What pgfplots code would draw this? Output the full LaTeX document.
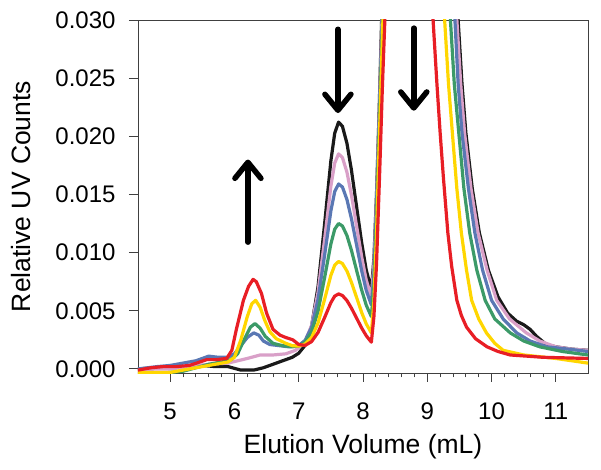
\documentclass[border=0pt]{standalone}
\usepackage{pgfplots}
\pgfplotsset{compat=1.18}
\usepackage{fontspec}
\setmainfont{Liberation Sans}
\usetikzlibrary{arrows.meta}
\definecolor{cblack}{HTML}{1A1A1A}
\definecolor{cpink}{HTML}{D9A0C8}
\definecolor{cblue}{HTML}{5A78B4}
\definecolor{cgreen}{HTML}{3C9A68}
\definecolor{cyellow}{HTML}{FFD600}
\definecolor{cred}{HTML}{E81E25}
\begin{document}
\begin{tikzpicture}
\begin{axis}[
  scale only axis,
  width=450pt, height=353pt,
  xmin=4.5, xmax=11.5, ymin=-0.00035, ymax=0.030,
  axis line style={black!75, line width=0.9pt},
  xtick={5,6,7,8,9,10,11},
  minor x tick num=4,
  ytick={0,0.005,0.010,0.015,0.020,0.025,0.030},
  tick pos=left, tick align=outside,
  major tick length=9pt, minor tick length=4.5pt,
  tick style={black!75, line width=0.9pt},
  /pgf/number format/assume math mode=true,
  yticklabel style={/pgf/number format/fixed, /pgf/number format/precision=3, /pgf/number format/fixed zerofill, font=\fontsize{24}{28}\selectfont},
  xticklabel style={font=\fontsize{24}{28}\selectfont},
  xticklabel shift=17pt, yticklabel shift=10pt,
  xlabel shift=8pt, ylabel shift=18pt,
  scaled y ticks=false,
  xlabel={Elution Volume (mL)},
  ylabel={Relative UV Counts},
  label style={font=\fontsize{26.5}{30}\selectfont},
  every axis plot/.append style={line width=3.2pt, line join=round, line cap=round},
  clip=true,
]
\coordinate (bl) at (rel axis cs:0,0);
\coordinate (tr) at (rel axis cs:1,1);
% black
\addplot[cblack] coordinates {(4.5,0.0000) (4.8,0.0001) (5.0,0.0001) (5.3,0.0002) (5.5,0.0003) (5.7,0.0002) (5.9,0.0002) (6.1,-0.0001) (6.3,-0.0001) (6.45,0.0001) (6.6,0.0004) (6.75,0.0007) (6.9,0.0010) (7.0,0.00135) (7.1,0.00204) (7.2,0.00366) (7.3,0.00705) (7.4,0.01232) (7.5,0.01788) (7.56,0.02027) (7.62,0.02122) (7.68,0.02086) (7.75,0.0194) (7.82,0.0171) (7.9,0.01396) (7.98,0.01083) (8.05,0.00852) (8.13,0.0068) (8.17,0.0095) (8.21,0.015) (8.25,0.022) (8.29,0.030) (8.33,0.040) (8.45,0.08) (8.8,0.2) (9.2,0.08) (9.35,0.045) (9.41,0.037) (9.48,0.030) (9.54,0.0245) (9.60,0.0203) (9.70,0.0155) (9.81,0.0117) (9.95,0.0085) (10.1,0.0062) (10.25,0.0048) (10.39,0.0041) (10.5,0.0038) (10.6,0.0034) (10.7,0.0028) (10.85,0.0021) (11.0,0.0019) (11.25,0.0017) (11.5,0.0016)};
% pink
\addplot[cpink] coordinates {(4.5,-0.0001) (4.8,0.0000) (5.0,0.0000) (5.3,0.0002) (5.6,0.0004) (5.9,0.0005) (6.05,0.0007) (6.2,0.0009) (6.4,0.0012) (6.6,0.0012) (6.8,0.0013) (6.95,0.0016) (7.0,0.00183) (7.1,0.00238) (7.2,0.00374) (7.3,0.00658) (7.4,0.01102) (7.5,0.0157) (7.56,0.0177) (7.62,0.01849) (7.68,0.01817) (7.75,0.01692) (7.82,0.01495) (7.9,0.01229) (7.98,0.00962) (8.05,0.00765) (8.13,0.0062) (8.17,0.009) (8.21,0.0145) (8.25,0.0215) (8.295,0.030) (8.34,0.040) (8.45,0.08) (8.8,0.2) (9.2,0.08) (9.33,0.045) (9.39,0.037) (9.46,0.030) (9.52,0.0245) (9.58,0.0203) (9.68,0.0155) (9.79,0.0117) (9.93,0.0085) (10.08,0.0059) (10.28,0.0043) (10.54,0.0031) (10.75,0.0024) (11.0,0.0019) (11.25,0.0017) (11.5,0.0016)};
% blue
\addplot[cblue] coordinates {(4.5,0.0000) (4.8,0.0002) (5.0,0.0003) (5.2,0.0005) (5.4,0.0007) (5.6,0.0011) (5.75,0.0010) (5.9,0.0010) (6.0,0.0013) (6.1,0.0020) (6.2,0.0027) (6.3,0.0031) (6.38,0.0029) (6.45,0.0024) (6.55,0.0021) (6.7,0.0020) (6.85,0.0019) (7.0,0.00201) (7.1,0.00246) (7.2,0.00358) (7.3,0.00596) (7.4,0.00967) (7.5,0.01358) (7.56,0.01525) (7.62,0.0159) (7.68,0.01564) (7.75,0.01457) (7.82,0.01292) (7.9,0.01066) (7.98,0.00842) (8.05,0.00676) (8.13,0.0055) (8.17,0.0082) (8.21,0.014) (8.25,0.021) (8.3,0.030) (8.35,0.040) (8.45,0.08) (8.8,0.2) (9.2,0.08) (9.3,0.045) (9.36,0.037) (9.43,0.030) (9.48,0.0245) (9.54,0.0203) (9.64,0.0155) (9.74,0.0117) (9.86,0.0085) (10.0,0.0059) (10.18,0.0043) (10.39,0.0031) (10.6,0.0024) (10.86,0.0019) (11.2,0.0017) (11.5,0.0015)};
% green
\addplot[cgreen] coordinates {(4.5,-0.0004) (4.8,-0.0004) (5.0,-0.0003) (5.2,-0.0002) (5.4,0.0001) (5.6,0.0004) (5.8,0.0006) (5.95,0.0008) (6.05,0.0013) (6.15,0.0025) (6.25,0.0036) (6.32,0.0039) (6.4,0.0035) (6.48,0.0028) (6.6,0.0022) (6.75,0.0020) (6.9,0.0019) (7.0,0.00198) (7.1,0.00232) (7.2,0.00316) (7.3,0.00495) (7.4,0.00777) (7.5,0.01074) (7.56,0.01201) (7.62,0.0125) (7.68,0.01229) (7.75,0.01147) (7.82,0.0102) (7.9,0.00848) (7.98,0.00677) (8.05,0.00549) (8.13,0.0045) (8.17,0.0072) (8.21,0.013) (8.25,0.020) (8.305,0.030) (8.35,0.040) (8.45,0.08) (8.8,0.2) (9.15,0.08) (9.22,0.045) (9.28,0.037) (9.36,0.030) (9.42,0.0245) (9.49,0.0203) (9.57,0.0155) (9.66,0.0117) (9.77,0.0085) (9.90,0.0059) (10.05,0.0043) (10.29,0.0031) (10.5,0.0024) (10.75,0.0019) (11.1,0.0015) (11.5,0.0012)};
% yellow
\addplot[cyellow] coordinates {(4.5,-0.0003) (4.8,-0.0003) (5.0,-0.0003) (5.3,0.0000) (5.5,0.0002) (5.7,0.0004) (5.9,0.0006) (6.0,0.0010) (6.1,0.0025) (6.2,0.0045) (6.27,0.0056) (6.33,0.0059) (6.4,0.0053) (6.47,0.0042) (6.55,0.0032) (6.65,0.0026) (6.8,0.0022) (6.9,0.0020) (7.0,0.00196) (7.1,0.00214) (7.2,0.00269) (7.3,0.00394) (7.4,0.00593) (7.5,0.00804) (7.56,0.00892) (7.62,0.00924) (7.68,0.00906) (7.75,0.00842) (7.82,0.00745) (7.9,0.00615) (7.98,0.00484) (8.05,0.00388) (8.13,0.0031) (8.17,0.0058) (8.21,0.0115) (8.25,0.019) (8.31,0.030) (8.36,0.040) (8.45,0.08) (8.8,0.2) (9.08,0.08) (9.15,0.045) (9.2,0.037) (9.27,0.030) (9.33,0.0245) (9.39,0.0203) (9.46,0.0155) (9.53,0.0117) (9.61,0.0085) (9.69,0.0059) (9.8,0.0043) (9.92,0.0031) (10.05,0.0022) (10.18,0.0016) (10.5,0.0012) (11.0,0.0009) (11.5,0.0005)};
% red
\addplot[cred] coordinates {(4.5,-0.0001) (4.7,0.0001) (4.89,0.0002) (5.1,0.0002) (5.3,0.0003) (5.41,0.0005) (5.57,0.0008) (5.72,0.0008) (5.88,0.0009) (5.96,0.0016) (6.03,0.0034) (6.14,0.0059) (6.22,0.0071) (6.29,0.0077) (6.34,0.0075) (6.42,0.0065) (6.50,0.0048) (6.6,0.0034) (6.71,0.0029) (6.8,0.0027) (6.91,0.0025) (7.0,0.0021) (7.1,0.00202) (7.2,0.00235) (7.3,0.00313) (7.4,0.00438) (7.5,0.0057) (7.56,0.00626) (7.62,0.00645) (7.68,0.00631) (7.75,0.00588) (7.82,0.00523) (7.9,0.00437) (7.98,0.00351) (8.05,0.00286) (8.13,0.0023) (8.17,0.0045) (8.21,0.009) (8.26,0.017) (8.3,0.024) (8.34,0.030) (8.38,0.040) (8.48,0.08) (8.8,0.2) (8.95,0.08) (9.0,0.045) (9.03,0.037) (9.09,0.030) (9.15,0.0245) (9.20,0.0203) (9.25,0.0165) (9.32,0.0117) (9.38,0.0088) (9.46,0.0059) (9.53,0.0046) (9.61,0.0036) (9.75,0.0026) (9.93,0.0019) (10.1,0.0015) (10.29,0.0012) (10.8,0.0010) (11.5,0.0009)};
% arrows
\draw[black, line width=5.5pt, line cap=round, -{Straight Barb[length=16pt, width=26pt, round]}] (axis cs:6.21,0.0109) -- (axis cs:6.21,0.0180);
\draw[black, line width=5.5pt, line cap=round, -{Straight Barb[length=16pt, width=26pt, round]}] (axis cs:7.61,0.0292) -- (axis cs:7.61,0.0220);
\draw[black, line width=5.5pt, line cap=round, -{Straight Barb[length=16pt, width=26pt, round]}] (axis cs:8.79,0.0293) -- (axis cs:8.79,0.0222);
\end{axis}
\pgfresetboundingbox
\path ([shift={(-138pt,-97pt)}]bl) rectangle ([shift={(13pt,20pt)}]tr);
\end{tikzpicture}
\end{document}
